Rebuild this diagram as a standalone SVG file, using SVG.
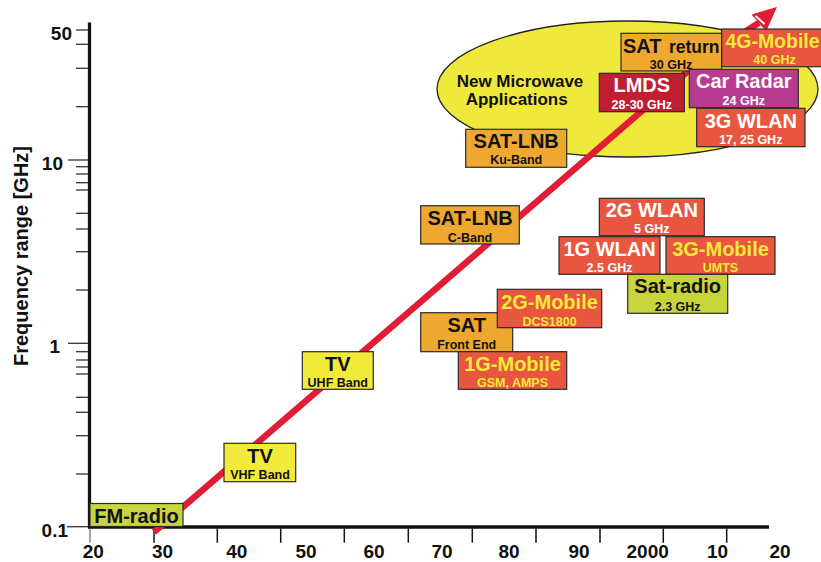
<svg xmlns="http://www.w3.org/2000/svg" width="821" height="562" viewBox="0 0 821 562">
<defs>
<style>
text { font-family: "Liberation Sans", Arial, sans-serif; font-weight: bold; }
.box { stroke: #2b2b2b; stroke-width: 1.2; }
.yel { fill: #f1ea3b; }
.lime { fill: #c7d43b; }
.org { fill: #eea82f; }
.red { fill: #e9563f; }
.lmds { fill: #c11f31; }
.mag { fill: #b73c8f; }
.t { font-size: 20px; text-anchor: middle; }
.s { font-size: 12.5px; text-anchor: middle; }
.k { fill: #111; }
.w { fill: #fff; }
.y { fill: #f4ea3a; }
.tick { stroke: #333; stroke-width: 1.3; }
.xt { stroke: #111; stroke-width: 1.5; }
.lab { font-size: 19px; fill: #111; }
.xl { text-anchor: middle; }
.yl { text-anchor: end; }
</style>
</defs>
<rect x="0" y="0" width="821" height="562" fill="#fff"/>

<g id="axes">
  <line x1="89.5" y1="22.5" x2="89.5" y2="528.5" stroke="#111" stroke-width="3.3"/>
  <line x1="88" y1="527" x2="769" y2="527" stroke="#111" stroke-width="3.3"/>
  <g class="tick">
    <line x1="76" y1="30" x2="88" y2="30"/>
    <line x1="76" y1="44.3" x2="88" y2="44.3"/>
    <line x1="76" y1="68.3" x2="88" y2="68.3"/>
    <line x1="76" y1="106.7" x2="88" y2="106.7"/>
    <line x1="68" y1="160" x2="88" y2="160"/>
    <line x1="76" y1="166.7" x2="88" y2="166.7"/>
    <line x1="76" y1="174" x2="88" y2="174"/>
    <line x1="76" y1="182.7" x2="88" y2="182.7"/>
    <line x1="76" y1="190" x2="88" y2="190"/>
    <line x1="76" y1="213.3" x2="88" y2="213.3"/>
    <line x1="76" y1="229" x2="88" y2="229"/>
    <line x1="76" y1="251.7" x2="88" y2="251.7"/>
    <line x1="76" y1="290" x2="88" y2="290"/>
    <line x1="68" y1="343.3" x2="88" y2="343.3"/>
    <line x1="76" y1="351.7" x2="88" y2="351.7"/>
    <line x1="76" y1="360" x2="88" y2="360"/>
    <line x1="76" y1="367" x2="88" y2="367"/>
    <line x1="76" y1="374" x2="88" y2="374"/>
    <line x1="76" y1="397.3" x2="88" y2="397.3"/>
    <line x1="76" y1="412.3" x2="88" y2="412.3"/>
    <line x1="76" y1="435.7" x2="88" y2="435.7"/>
    <line x1="76" y1="474" x2="88" y2="474"/>
    <line x1="67" y1="526.7" x2="88" y2="526.7"/>
  </g>
  <g class="xt">
    <line x1="90" y1="528.5" x2="90" y2="542.7" stroke="#888"/>
    <line x1="154" y1="528.5" x2="154" y2="542.7"/>
    <line x1="217.3" y1="528.5" x2="217.3" y2="542.7"/>
    <line x1="280.7" y1="528.5" x2="280.7" y2="542.7"/>
    <line x1="344.3" y1="528.5" x2="344.3" y2="542.7"/>
    <line x1="408.3" y1="528.5" x2="408.3" y2="542.7"/>
    <line x1="472.3" y1="528.5" x2="472.3" y2="542.7"/>
    <line x1="536" y1="528.5" x2="536" y2="542.7"/>
    <line x1="600" y1="528.5" x2="600" y2="542.7"/>
    <line x1="663.3" y1="528.5" x2="663.3" y2="542.7"/>
    <line x1="726.7" y1="528.5" x2="726.7" y2="542.7"/>
  </g>
  <g class="lab">
    <text class="yl" x="72" y="40">50</text>
    <text class="yl" x="63" y="170">10</text>
    <text class="yl" x="60" y="353.3">1</text>
    <text class="yl" x="68" y="536.7">0.1</text>
    <text class="xl" x="93.3" y="557.8">20</text>
    <text class="xl" x="162.5" y="557.8">30</text>
    <text class="xl" x="236.7" y="557.8">40</text>
    <text class="xl" x="306" y="557.8">50</text>
    <text class="xl" x="374" y="557.8">60</text>
    <text class="xl" x="442" y="557.8">70</text>
    <text class="xl" x="509" y="557.8">80</text>
    <text class="xl" x="579" y="557.8">90</text>
    <text class="xl" x="647.7" y="557.8">2000</text>
    <text class="xl" x="717.5" y="557.8">10</text>
    <text class="xl" x="780" y="557.8">20</text>
  </g>
  <text transform="translate(27.6,256) rotate(-90)" text-anchor="middle" font-size="20" fill="#111">Frequency range [GHz]</text>
</g>

<g id="new-microwave">
  <ellipse cx="627.5" cy="89" rx="190.5" ry="68" fill="#efe93c" stroke="#222" stroke-width="1.3"/>
  <text x="520" y="86.7" font-size="17" text-anchor="middle" fill="#111">New Microwave</text>
  <text x="516.7" y="105" font-size="17" text-anchor="middle" fill="#111">Applications</text>
</g>

<g id="connectors">
  <polyline points="154,532 700,60.7 759,22.7" fill="none" stroke="#e11d36" stroke-width="6.5" stroke-linejoin="round"/>
  <polygon points="777,7 766.2,31.2 751.5,14.4" fill="#e11d36"/>
  <line x1="755.5" y1="16" x2="764.5" y2="24" stroke="#fff" stroke-width="1.8"/>
</g>

<g id="fm-radio"><rect class="box lime" x="90" y="503.5" width="93" height="23"/><text class="t k" x="136.5" y="523">FM-radio</text></g>
<g id="tv-vhf"><rect class="box yel" x="224" y="443.3" width="71.7" height="38.4"/><text class="t k" x="260" y="462.7">TV</text><text class="s k" x="260" y="479.3">VHF Band</text></g>
<g id="tv-uhf"><rect class="box yel" x="302.3" y="351.7" width="71" height="37.6"/><text class="t k" x="337.8" y="370.7">TV</text><text class="s k" x="337.8" y="386.7">UHF Band</text></g>
<g id="sat-front-end"><rect class="box org" x="420.7" y="312.7" width="92" height="39"/><text class="t k" x="466.7" y="331.7">SAT</text><text class="s k" x="466.7" y="349">Front End</text></g>
<g id="mobile-2g"><rect class="box red" x="497.3" y="289.3" width="104.4" height="38.4"/><text class="t y" x="549.5" y="309.3">2G-Mobile</text><text class="s y" x="549.5" y="325.7">DCS1800</text></g>
<g id="mobile-1g"><rect class="box red" x="458.3" y="351.7" width="108.4" height="37.6"/><text class="t y" x="512.5" y="371">1G-Mobile</text><text class="s y" x="512.5" y="386.7">GSM, AMPS</text></g>
<g id="sat-lnb-c"><rect class="box org" x="420.7" y="205.7" width="98.6" height="38.3"/><text class="t k" x="470" y="225">SAT-LNB</text><text class="s k" x="470" y="241.7">C-Band</text></g>
<g id="sat-lnb-ku"><rect class="box org" x="465.7" y="129.3" width="101" height="38"/><text class="t k" x="516.2" y="147.7">SAT-LNB</text><text class="s k" x="516.2" y="164">Ku-Band</text></g>
<g id="wlan-2g"><rect class="box red" x="599.3" y="198.3" width="105" height="37.4"/><text class="t w" x="651.8" y="217.3">2G WLAN</text><text class="s w" x="651.8" y="233.3">5 GHz</text></g>
<g id="wlan-1g"><rect class="box red" x="559" y="236.7" width="101" height="37.6"/><text class="t w" x="609.5" y="255.7">1G WLAN</text><text class="s w" x="609.5" y="272.3">2.5 GHz</text></g>
<g id="mobile-3g"><rect class="box red" x="666" y="236.7" width="109" height="37.6"/><text class="t y" x="720.5" y="255.7">3G-Mobile</text><text class="s y" x="720.5" y="272.3">UMTS</text></g>
<g id="sat-radio"><rect class="box lime" x="627.7" y="274.3" width="100" height="39"/><text class="t k" x="677.7" y="293.3">Sat-radio</text><text class="s k" x="677.7" y="310.7">2.3 GHz</text></g>
<g id="sat-return"><rect class="box org" x="621" y="33.3" width="100.7" height="37.7"/><text class="k" x="623" y="52.7" font-size="20">SAT <tspan x="669" font-size="17.5">return</tspan></text><text class="s k" x="671" y="69">30 GHz</text></g>
<g id="mobile-4g"><rect class="box red" x="721.7" y="29" width="110" height="37.7"/><text class="y" x="725.5" y="47.7" font-size="20" textLength="94" lengthAdjust="spacingAndGlyphs">4G-Mobile</text><text class="s y" x="774.5" y="64">40 GHz</text></g>
<g id="lmds"><rect class="box lmds" x="599.3" y="73.3" width="85" height="38.4"/><text class="t w" x="641.8" y="92.3">LMDS</text><text class="s w" x="641.8" y="109.3">28-30 GHz</text></g>
<g id="car-radar"><rect class="box mag" x="689.3" y="69.3" width="109" height="38.4"/><text class="t w" x="743.8" y="88.3">Car Radar</text><text class="s w" x="743.8" y="105">24 GHz</text></g>
<g id="wlan-3g"><rect class="box red" x="696.7" y="108.3" width="108.3" height="38.4"/><text class="t w" x="750.8" y="127.7">3G WLAN</text><text class="s w" x="750.8" y="144">17, 25 GHz</text></g>
</svg>
